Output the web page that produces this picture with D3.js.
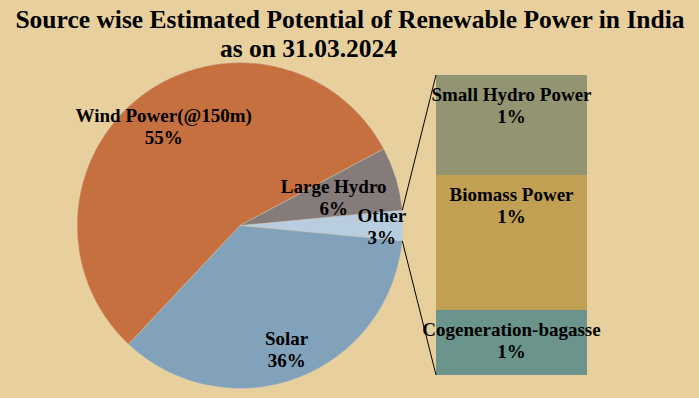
<!DOCTYPE html>
<html>
<head>
<meta charset="utf-8">
<script src="https://cdn.jsdelivr.net/npm/d3@7"></script>
<style>
  body { margin: 0; background: #E8D09E; }
  svg { display: block; }
  text { font-family: "Liberation Serif", "Times New Roman", serif; font-weight: bold; fill: #000; }
</style>
</head>
<body>
<div id="chart"></div>
<script>
// share of total estimated potential (%)
let pieNames = ['Other', 'Solar', 'Wind Power(@150m)', 'Large Hydro'];
let pieValues = [3.0, 35.5, 55.2, 6.3];
let barNames = ['Small Hydro Power', 'Biomass Power', 'Cogeneration-bagasse'];
let barValues = [1.0, 1.35, 0.65];
let titleLines = ['Source wise Estimated Potential of Renewable Power in India', 'as on 31.03.2024'];

let pieColors = ['#B8CDE0', '#82A2BB', '#C5703E', '#857B7A'];
let barColors = ['#939572', '#C2A053', '#6A948C'];

let W = 699, H = 398;
let cx = 240, cy = 225.5, R = 163;

let svg = d3.select('#chart')
            .append('svg')
            .attr('width', W)
            .attr('height', H)

svg.append('rect')
    .attr('width', W)
    .attr('height', H)
    .attr('fill', '#E8D09E')

// title
svg.append('text')
    .attr('x', 350)
    .attr('y', 28)
    .attr('text-anchor', 'middle')
    .style('font-size', '25.5px')
    .text(titleLines[0])
svg.append('text')
    .attr('x', 308.5)
    .attr('y', 56.5)
    .attr('text-anchor', 'middle')
    .style('font-size', '25.5px')
    .text(titleLines[1])

// pie
let pieData = pieNames.map((n, i) => ({name: n, value: pieValues[i], color: pieColors[i]}));
let otherAngle = pieValues[0] / d3.sum(pieValues) * 2 * Math.PI;
let start = Math.PI / 2 - otherAngle / 2;
let pie = d3.pie().sort(null).value(d => d.value)
            .startAngle(start).endAngle(start + 2 * Math.PI);
let arcs = pie(pieData);
let arc = d3.arc().innerRadius(0).outerRadius(R);

let g = svg.append('g').attr('transform', `translate(${cx},${cy})`);
g.selectAll('path')
    .data(arcs)
    .enter()
    .append('path')
    .attr('d', arc)
    .attr('fill', d => d.data.color)
    .attr('stroke', '#d8d0c0')
    .attr('stroke-width', 0.4)

// label distance from centre, as a fraction of the radius
let labelRadius = {'Other': 0.87, 'Solar': 0.81, 'Wind Power(@150m)': 0.77, 'Large Hydro': 0.6};
let pieLabels = g.selectAll('.plabel')
    .data(arcs)
    .enter()
    .append('text')
    .attr('class', 'plabel')
    .attr('text-anchor', 'middle')
    .style('font-size', '19px')
    .attr('transform', d => {
        let a = (d.startAngle + d.endAngle) / 2;
        let r = R * labelRadius[d.data.name];
        return `translate(${r * Math.sin(a)},${-r * Math.cos(a)})`;
    })
pieLabels.append('tspan').attr('x', 0).attr('y', -4).text(d => d.data.name)
pieLabels.append('tspan').attr('x', 0).attr('y', 18).text(d => Math.round(d.data.value) + '%')

// bar of pie
let barX = 436, barW = 151, barTop = 75, barBottom = 375;
let y = d3.scaleLinear().domain([0, d3.sum(barValues)]).range([barTop, barBottom]);
let cum = d3.cumsum(barValues);
let barData = barNames.map((n, i) => ({name: n, value: barValues[i], y0: cum[i] - barValues[i], y1: cum[i], color: barColors[i]}));

svg.selectAll('.bar')
    .data(barData)
    .enter()
    .append('rect')
    .attr('class', 'bar')
    .attr('x', barX)
    .attr('width', barW)
    .attr('y', d => y(d.y0))
    .attr('height', d => y(d.y1) - y(d.y0))
    .attr('fill', d => d.color)

let barLabels = svg.selectAll('.blabel')
    .data(barData)
    .enter()
    .append('text')
    .attr('class', 'blabel')
    .attr('text-anchor', 'middle')
    .style('font-size', '19px')
barLabels.append('tspan').attr('x', barX + barW / 2).attr('y', d => y(d.y0) + 26).text(d => d.name)
barLabels.append('tspan').attr('x', barX + barW / 2).attr('y', d => y(d.y0) + 48).text(d => Math.round(d.value) + '%')

// connector lines
let o = arcs[0];
[[o.startAngle, barTop], [o.endAngle, barBottom]].forEach(([a, yb]) => {
    svg.append('line')
        .attr('x1', cx + R * Math.sin(a))
        .attr('y1', cy - R * Math.cos(a))
        .attr('x2', barX)
        .attr('y2', yb)
        .attr('stroke', '#000')
        .attr('stroke-width', 1)
})
</script>
</body>
</html>
